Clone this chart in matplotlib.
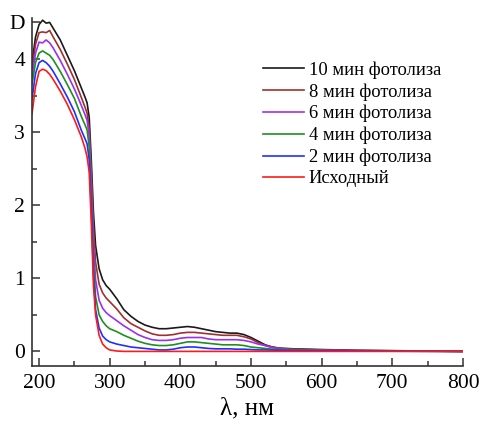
import matplotlib.pyplot as plt
from matplotlib.ticker import MultipleLocator

plt.rcParams['font.family'] = ['Liberation Serif', 'DejaVu Serif']

# wavelength grid, nm
wavelength = [190, 195, 200, 205, 210, 215, 220, 230, 240, 250, 260, 265, 268,
              271, 274, 277, 280, 285, 290, 295, 300, 310, 320, 330, 340, 350,
              360, 370, 380, 390, 400, 410, 420, 430, 440, 450, 460, 470, 480,
              490, 500, 510, 520, 530, 540, 550, 560, 580, 600, 650, 700, 750, 800]

d_10min = [3.95, 4.30, 4.47, 4.53, 4.49, 4.50, 4.42, 4.26, 4.05, 3.84, 3.60, 3.48, 3.40,
           3.20, 2.60, 1.90, 1.45, 1.13, 0.98, 0.90, 0.85, 0.72, 0.57, 0.48, 0.41, 0.36,
           0.33, 0.31, 0.31, 0.32, 0.33, 0.34, 0.33, 0.31, 0.29, 0.27, 0.26, 0.25, 0.25,
           0.23, 0.19, 0.14, 0.09, 0.06, 0.045, 0.04, 0.035, 0.03, 0.025, 0.015, 0.01, 0.005, 0.0]

d_8min = [3.85, 4.20, 4.36, 4.37, 4.36, 4.39, 4.30, 4.13, 3.93, 3.72, 3.47, 3.34, 3.26,
          3.05, 2.45, 1.70, 1.22, 0.92, 0.80, 0.73, 0.68, 0.58, 0.46, 0.38, 0.33, 0.28,
          0.24, 0.22, 0.22, 0.23, 0.25, 0.26, 0.26, 0.25, 0.24, 0.23, 0.22, 0.22, 0.22,
          0.20, 0.17, 0.12, 0.08, 0.06, 0.04, 0.035, 0.03, 0.025, 0.02, 0.012, 0.008, 0.004, 0.0]

d_6min = [3.75, 4.08, 4.23, 4.22, 4.26, 4.22, 4.15, 3.98, 3.79, 3.59, 3.36, 3.24, 3.16,
          2.95, 2.30, 1.50, 0.98, 0.70, 0.59, 0.53, 0.49, 0.42, 0.35, 0.29, 0.23, 0.19,
          0.16, 0.15, 0.15, 0.16, 0.18, 0.19, 0.19, 0.19, 0.17, 0.16, 0.16, 0.16, 0.16,
          0.15, 0.13, 0.10, 0.08, 0.05, 0.04, 0.03, 0.025, 0.02, 0.015, 0.01, 0.006, 0.003, 0.0]

d_4min = [3.65, 3.95, 4.08, 4.11, 4.08, 4.05, 3.99, 3.83, 3.65, 3.46, 3.21, 3.10, 3.03,
          2.80, 2.10, 1.25, 0.75, 0.50, 0.41, 0.35, 0.31, 0.27, 0.22, 0.18, 0.14, 0.11,
          0.09, 0.08, 0.08, 0.09, 0.11, 0.13, 0.13, 0.12, 0.11, 0.10, 0.09, 0.09, 0.09,
          0.08, 0.06, 0.05, 0.04, 0.03, 0.025, 0.02, 0.018, 0.015, 0.01, 0.006, 0.004, 0.002, 0.0]

d_2min = [3.45, 3.80, 3.95, 3.98, 3.95, 3.90, 3.83, 3.66, 3.48, 3.28, 3.02, 2.91, 2.84,
          2.62, 1.95, 1.05, 0.57, 0.32, 0.21, 0.16, 0.13, 0.10, 0.08, 0.06, 0.05, 0.04,
          0.03, 0.02, 0.02, 0.03, 0.05, 0.06, 0.06, 0.05, 0.04, 0.035, 0.035, 0.035, 0.03,
          0.03, 0.025, 0.02, 0.02, 0.018, 0.015, 0.012, 0.01, 0.01, 0.008, 0.005, 0.003, 0.001, 0.0]

d_initial = [3.25, 3.62, 3.83, 3.86, 3.84, 3.79, 3.72, 3.56, 3.38, 3.17, 2.93, 2.78, 2.66,
             2.45, 1.75, 0.90, 0.50, 0.22, 0.10, 0.05, 0.02, 0.005, 0.0, 0.0, 0.0, 0.0,
             0.0, 0.0, 0.0, 0.0, 0.0, 0.0, 0.0, 0.0, 0.0, 0.0, 0.0, 0.0, 0.0,
             0.0, 0.0, 0.0, 0.0, 0.0, 0.0, 0.0, 0.0, 0.0, 0.0, 0.0, 0.0, 0.0, 0.0]

series = [
    ("10 мин фотолиза", d_10min, "#1a1a1a"),
    ("8 мин фотолиза", d_8min, "#a0302e"),
    ("6 мин фотолиза", d_6min, "#9b30f0"),
    ("4 мин фотолиза", d_4min, "#1f8f1f"),
    ("2 мин фотолиза", d_2min, "#2030ff"),
    ("Исходный", d_initial, "#ff1a1a"),
]

fig = plt.figure(figsize=(4.81, 4.25), dpi=100)
ax = fig.add_axes([0.0665, 0.1388, 0.896, 0.8188])

for label, values, color in series:
    ax.plot(wavelength, values, color=color, lw=1.2, label=label)

ax.set_xlim(190, 800)
ax.set_ylim(-0.2, 4.56)

ax.xaxis.set_major_locator(MultipleLocator(100))
ax.xaxis.set_minor_locator(MultipleLocator(50))
ax.set_yticks([0, 1, 2, 3, 4, 4.5])
ax.set_yticklabels(["0", "1", "2", "3", "4", "D"])
ax.yaxis.set_minor_locator(MultipleLocator(0.5))

for side in ["top", "right"]:
    ax.spines[side].set_visible(False)
for side in ["left", "bottom"]:
    ax.spines[side].set_color("#333333")
    ax.spines[side].set_linewidth(1.2)

ax.tick_params(which="both", direction="in", colors="#333333", labelcolor="black",
               labelsize=15.5)
ax.tick_params(which="major", length=6, width=1.1)
ax.tick_params(which="minor", length=3.3, width=1.1)
ax.tick_params(axis="x", pad=6)
ax.tick_params(axis="y", pad=5)

ax.set_xlabel("λ, нм", fontsize=18, labelpad=3)

ax.legend(loc="upper left", bbox_to_anchor=(0.52, 0.897), frameon=False,
          fontsize=13.3, handlelength=2.17, handletextpad=0.27, labelspacing=0.235,
          borderaxespad=0)

fig.savefig("out.png", dpi=100)
